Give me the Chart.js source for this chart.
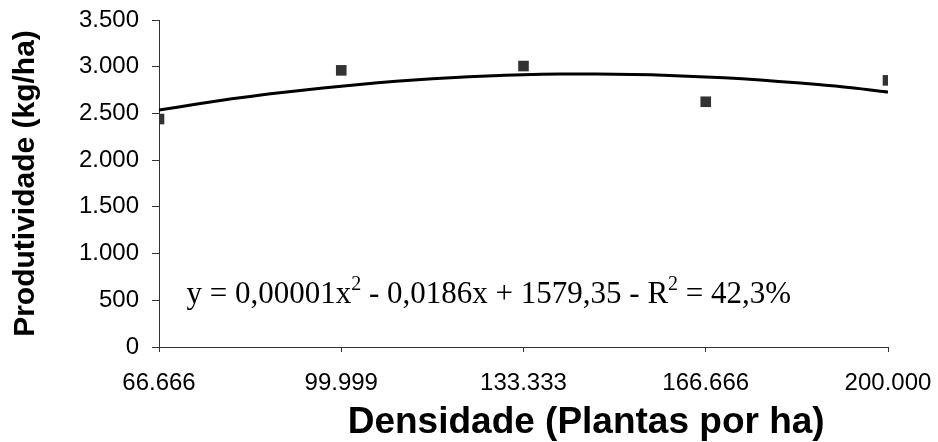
<!DOCTYPE html>
<html>
<head>
<meta charset="utf-8">
<script src="https://cdn.jsdelivr.net/npm/chart.js@4"></script>
<style>
html,body{margin:0;padding:0;background:#fff;}
#wrap{width:938px;height:442px;}
</style>
</head>
<body>
<div id="wrap"><canvas id="c" width="938" height="442"></canvas></div>
<script>
// Observed data (density, yield)
const densities = [66666, 99999, 133333, 166666, 200000];
const yields = [2440, 2961, 3007, 2625, 2854];
// Trend line
const trendX = [66666, 73333, 80000, 86666, 93333, 100000, 106666, 113333, 120000, 126666, 133333,
                140000, 146666, 153333, 160000, 166666, 173333, 180000, 186666, 193333, 200000];
const trendY = [2536, 2598, 2656, 2707, 2752, 2792, 2828, 2858, 2883, 2901, 2914,
                2921, 2922, 2918, 2907, 2890, 2870, 2843, 2812, 2775, 2729];
const xTickValues = [66666, 99999, 133333, 166666, 200000];
const xTickLabels = ["66.666", "99.999", "133.333", "166.666", "200.000"];
const yTickLabels = ["0", "500", "1.000", "1.500", "2.000", "2.500", "3.000", "3.500"];
const xTitle = "Densidade (Plantas por ha)";
const yTitle = "Produtividade (kg/ha)";

const sansFont = '"Liberation Sans", Arial, sans-serif';

const textPlugin = {
  id: 'texts',
  afterDraw(chart) {
    const ctx = chart.ctx;
    const xs = chart.scales.x, ys = chart.scales.y;
    // regression equation
    let x = xs.getPixelForValue(71700);
    const y = ys.getPixelForValue(475);
    const parts = [
      ["y = 0,00001x", false], ["2", true], [" - 0,0186x + 1579,35 - R", false], ["2", true], [" = 42,3%", false]
    ];
    ctx.save();
    ctx.fillStyle = '#000';
    ctx.textBaseline = 'alphabetic';
    ctx.textAlign = 'left';
    for (const [t, sup] of parts) {
      ctx.font = sup ? '20px "Liberation Serif"' : '31px "Liberation Serif"';
      ctx.fillText(t, x, sup ? y - 13 : y);
      x += ctx.measureText(t).width;
    }
    // x axis title (offset to the right as in the original)
    ctx.font = 'bold 37px ' + sansFont;
    ctx.textAlign = 'center';
    ctx.textBaseline = 'middle';
    ctx.fillText(xTitle, xs.getPixelForValue(144800), chart.height - 19);
    ctx.restore();
  }
};

new Chart(document.getElementById('c'), {
  type: 'scatter',
  data: {
    datasets: [
      {
        type: 'line',
        data: trendX.map((v, i) => ({x: v, y: trendY[i]})),
        borderColor: '#000',
        borderWidth: 3,
        pointRadius: 0,
        fill: false,
        tension: 0.3,
        order: 2
      },
      {
        data: densities.map((v, i) => ({x: v, y: yields[i]})),
        pointStyle: 'rect',
        pointRadius: 7.5,
        pointBackgroundColor: '#333',
        pointBorderWidth: 0,
        borderColor: '#333',
        order: 1
      }
    ]
  },
  options: {
    responsive: false,
    animation: false,
    devicePixelRatio: 1,
    layout: {padding: {left: 8, right: 50, top: 20, bottom: 0}},
    plugins: {legend: {display: false}, tooltip: {enabled: false}},
    scales: {
      x: {
        type: 'linear',
        min: 66666, max: 200000,
        afterBuildTicks(axis) { axis.ticks = xTickValues.map(v => ({value: v})); },
        afterFit(axis) { axis.height = 95; axis.paddingLeft = 0; axis.paddingRight = 0; },
        ticks: {
          callback: (v) => xTickLabels[xTickValues.indexOf(v)],
          color: '#000', font: {family: sansFont, size: 24}, padding: 17, maxRotation: 0, autoSkip: false
        },
        grid: {drawOnChartArea: false, drawTicks: true, tickLength: 5, color: '#333'},
        border: {color: '#333', width: 1},
        title: {display: false}
      },
      y: {
        min: 0, max: 3500,
        ticks: {
          stepSize: 500,
          callback: (v) => yTickLabels[Math.round(v / 500)],
          color: '#000', font: {family: sansFont, size: 24}, padding: 13
        },
        afterFit(axis) { axis.width = 151; axis.paddingTop = 0; axis.paddingBottom = 0; },
        grid: {drawOnChartArea: false, drawTicks: true, tickLength: 7, color: '#333'},
        border: {color: '#333', width: 1},
        title: {display: true, text: yTitle, color: '#000', font: {family: sansFont, size: 30, weight: 'bold'}, padding: 0}
      }
    }
  },
  plugins: [textPlugin]
});
</script>
</body>
</html>
